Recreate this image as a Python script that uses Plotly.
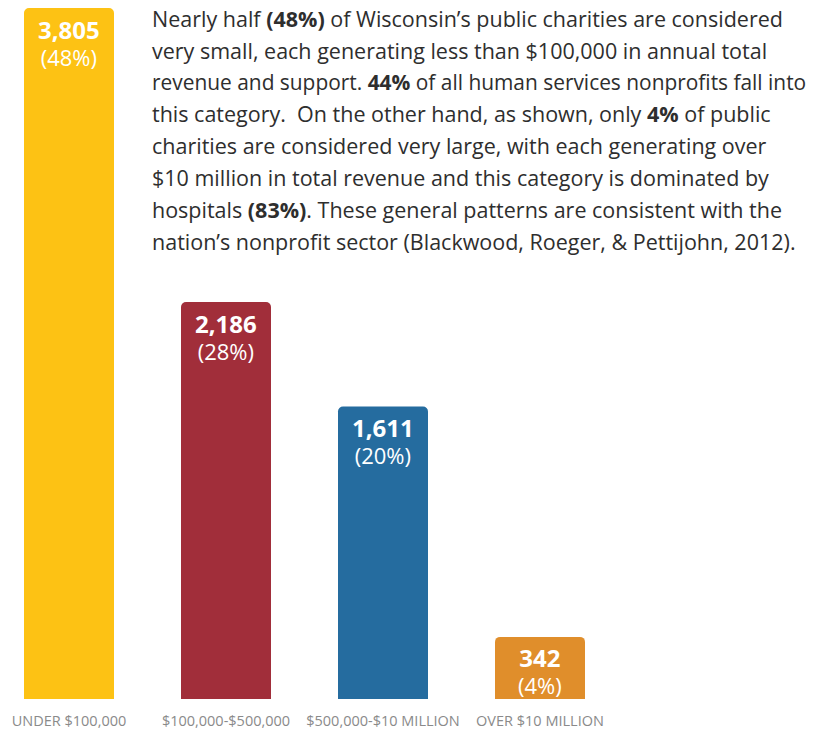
import plotly.graph_objects as go

categories = ["UNDER $100,000", "$100,000-$500,000", "$500,000-$10 MILLION", "OVER $10 MILLION"]
counts = [3805, 2186, 1611, 342]
percents = [48, 28, 20, 4]
colors = ["#FDC214", "#A12E3A", "#256C9F", "#E08E2B"]

paragraph_lines = [
    "Nearly half <b>(48%)</b> of Wisconsin’s public charities are considered",
    "very small, each generating less than $100,000 in annual total",
    "revenue and support. <b>44%</b> of all human services nonprofits fall into",
    "this category.  On the other hand, as shown, only <b>4%</b> of public",
    "charities are considered very large, with each generating over",
    "$10 million in total revenue and this category is dominated by",
    "hospitals <b>(83%)</b>. These general patterns are consistent with the",
    "nation’s nonprofit sector (Blackwood, Roeger, &amp; Pettijohn, 2012).",
]
paragraph_sizes = [21.5, 21.5, 20.9, 21.5, 21.5, 21.5, 21.5, 21.5]

W, H = 817, 732
BOTTOM = 33
PLOT_H = H - BOTTOM
FONT = "Open Sans"
X0 = 69                # pixel centre of first category
STEP = 157             # pixel distance between categories

fig = go.Figure(go.Bar(
    x=categories, y=counts, marker=dict(color=colors, line=dict(width=0)),
    width=90 / STEP, hoverinfo="skip",
))

for c, v, p in zip(categories, counts, percents):
    fig.add_annotation(
        x=c, y=v, showarrow=False, yanchor="middle", yshift=-34,
        text=(f"<span style='font-size:24px'><b>{v:,}</b></span><br>"
              f"<span style='font-size:22px'>({p}%)</span>"),
        font=dict(family=FONT, size=20.5, color="white"))

for i, (line, sz) in enumerate(zip(paragraph_lines, paragraph_sizes)):
    ypx = 18.5 + 31.8 * i
    fig.add_annotation(xref="paper", yref="paper", x=150 / W, y=1 - ypx / PLOT_H,
                       xanchor="left", yanchor="middle", text=line, showarrow=False,
                       font=dict(family=FONT, size=sz, color="#2e2e2e"))

fig.update_layout(
    width=W, height=H, margin=dict(l=0, r=0, t=0, b=BOTTOM, autoexpand=False),
    paper_bgcolor="white", plot_bgcolor="white", showlegend=False,
    barcornerradius=5,
    xaxis=dict(range=[-X0 / STEP, (W - X0) / STEP], showgrid=False, zeroline=False, showline=False,
               ticks="", tickfont=dict(family=FONT, size=14.5, color="#8a8a8a"),
               ticklabelstandoff=11, automargin=False, fixedrange=True),
    yaxis=dict(range=[0, PLOT_H / 0.1816], visible=False, fixedrange=True),
)

fig.write_html("out.html", config={"displayModeBar": False},
               post_script="document.body.style.margin='0';document.body.style.overflow='hidden';")
